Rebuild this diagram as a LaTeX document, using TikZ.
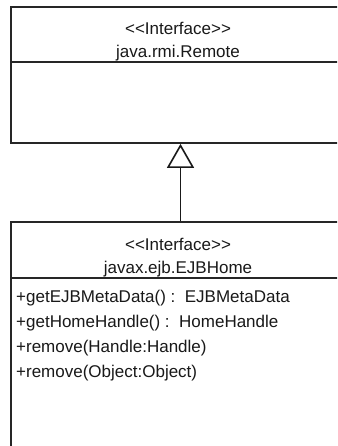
\documentclass[tikz,border=0pt]{standalone}
\usepackage{fontspec}
\setmainfont{Liberation Sans}
\usetikzlibrary{arrows.meta}
\begin{document}
\begin{tikzpicture}[x=1pt,y=1pt,
  umlbox/.style={draw=black!85, line width=1.8pt, fill=white, inner sep=0pt, minimum width=334pt},
  umltext/.style={inner sep=0pt, anchor=base, font=\fontsize{17}{19}\selectfont, text=black!90},
  membertext/.style={inner sep=0pt, anchor=base west, font=\fontsize{17}{19}\selectfont, text=black!90},
  sepline/.style={draw=black!85, line width=1.8pt},
  realize/.style={draw=black!90, line width=1.6pt, -{Triangle[open, width=27pt, length=24pt, line width=1.6pt]}}
]
\useasboundingbox (0,0) rectangle (337,-446);
\clip (0,0) rectangle (337,-446);
\fill[white] (0,0) rectangle (337,-446);
% top interface
\node[umlbox, minimum height=136pt] (remote) at (178,-75) {};
\draw[sepline] (11,-62) -- (345,-62);
\node[umltext] (remotest) at (178,-35) {<{}<Interface>{}>};
\node[umltext] (remotename) at (178,-58) {java.rmi.Remote};
% bottom interface
\node[umlbox, minimum height=238pt] (home) at (178,-341) {};
\draw[sepline] (11,-278) -- (345,-278);
\node[umltext] (homest) at (178,-250) {<{}<Interface>{}>};
\node[umltext] (homename) at (178,-273) {javax.ejb.EJBHome};
\node[membertext] (m1) at (16,-302) {+getEJBMetaData() :\ \ EJBMetaData};
\node[membertext] (m2) at (16,-327) {+getHomeHandle() :\ \ HomeHandle};
\node[membertext] (m3) at (16,-352) {+remove(Handle:Handle)};
\node[membertext] (m4) at (16,-377) {+remove(Object:Object)};
% generalization
\coordinate (axis) at (180.5,0);
\draw[realize] (home.north -| axis) -- (remote.south -| axis);
\end{tikzpicture}
\end{document}
